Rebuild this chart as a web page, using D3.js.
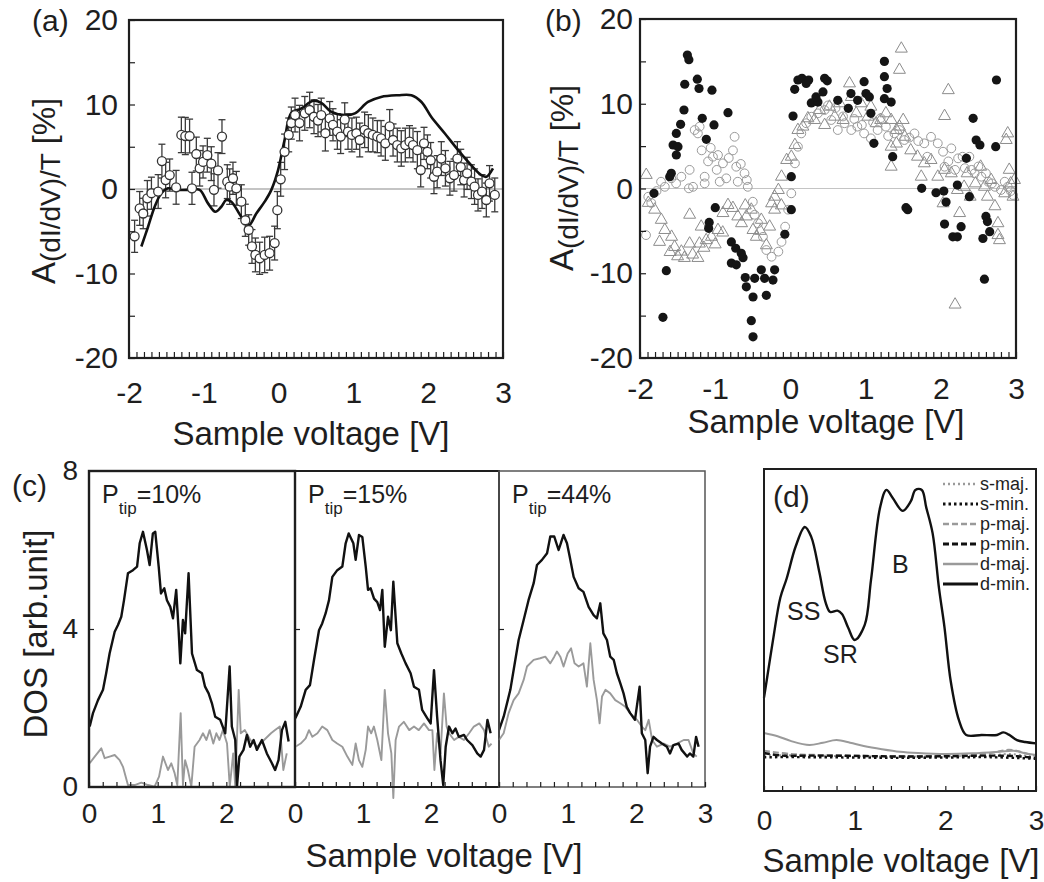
<!DOCTYPE html>
<html><head><meta charset="utf-8">
<script src="https://cdn.jsdelivr.net/npm/d3@7/dist/d3.min.js"></script>
<style>
body{margin:0;background:#fff;}
svg{display:block;}
</style></head><body>
<svg id="fig" width="1044" height="882"></svg>
<script>
// ---------------- DATA ----------------
// Panel (a): tick labels
const abXTicks = [-2, -1, 0, 1, 2, 3];
const abYTicks = [-20, -10, 0, 10, 20];
// Panel (a): measured asymmetry [V, A, err]
const aMeasured = [[-1.925,-5.6,1.9],[-1.857,-2.3,2.0],[-1.81,-2.9,1.8],[-1.755,-1.1,2.1],[-1.70,-0.5,1.9],
 [-1.61,-0.3,2.0],[-1.56,3.3,2.0],[-1.51,1.06,2.1],[-1.456,1.65,1.9],[-1.37,0.2,2.0],
 [-1.30,6.4,2.1],[-1.247,6.27,2.2],[-1.19,6.27,2.0],[-1.158,0.08,1.9],[-1.10,4.14,2.0],
 [-1.055,2.45,2.1],[-1.01,3.2,1.9],[-0.953,4.0,2.0],[-0.90,3.0,2.0],[-0.864,-0.1,1.9],
 [-0.81,2.2,2.1],[-0.757,6.2,2.0],[-0.686,0.87,2.0],[-0.654,0.28,2.1],[-0.61,1.27,1.9],
 [-0.565,0.08,2.0],[-0.498,-1.5,2.0],[-0.445,-3.7,1.9],[-0.40,-4.85,1.8],[-0.356,-6.8,2.0],
 [-0.31,-7.8,2.0],[-0.253,-8.2,1.9],[-0.186,-7.8,2.1],[-0.12,-7.6,2.0],[-0.053,-6.4,2.0],
 [-0.017,-2.5,2.2],[0.028,1.15,2.0],[0.08,4.4,2.1],[0.135,6.4,2.0],[0.17,7.8,1.9],
 [0.22,8.75,2.0],[0.28,7.8,2.1],[0.35,8.95,2.0],[0.415,9.35,2.1],[0.473,8.55,2.0],
 [0.527,8.1,1.9],[0.57,8.75,2.0],[0.625,6.6,2.1],[0.683,8.35,2.0],[0.727,7.6,1.9],
 [0.785,6.8,2.1],[0.83,6.2,2.0],[0.884,8.2,2.0],[0.928,6.8,2.1],[0.98,6.4,2.0],
 [1.04,6.6,1.9],[1.085,5.8,2.0],[1.15,7.0,2.1],[1.20,6.6,2.2],[1.26,6.4,2.0],
 [1.32,6.2,1.9],[1.37,6.0,2.1],[1.427,5.4,2.0],[1.485,7.4,2.0],[1.53,5.8,1.9],
 [1.587,5.2,2.0],[1.64,4.8,2.1],[1.694,5.2,2.0],[1.75,5.6,1.9],[1.797,5.2,2.0],
 [1.855,4.6,2.2],[1.90,2.25,2.0],[1.944,5.4,1.9],[1.99,4.4,2.0],[2.033,3.4,2.1],
 [2.077,1.45,2.0],[2.12,2.05,1.9],[2.175,3.6,2.0],[2.23,2.45,2.1],[2.29,1.27,2.0],
 [2.345,1.65,1.9],[2.39,3.6,2.0],[2.435,2.6,2.1],[2.48,1.06,2.0],[2.52,1.85,1.9],
 [2.577,0.87,2.0],[2.62,0.28,2.1],[2.666,-0.7,1.9],[2.72,-0.3,2.0],[2.777,-1.3,2.0],
 [2.82,0.67,2.1],[2.89,-0.7,2.0]];
// Panel (a): calculated curve [V, A]
const aCalc = [[-1.835,-6.8],[-1.746,-4.5],[-1.657,-2.1],[-1.568,-0.5],[-1.48,0.08],[-1.345,-0.1],
 [-1.167,-0.1],[-1.055,-0.1],[-0.944,-1.7],[-0.846,-2.7],[-0.766,-2.1],[-0.70,-1.3],[-0.632,-1.5],
 [-0.498,-3.3],[-0.40,-4.3],[-0.298,-2.9],[-0.186,-1.5],[-0.097,-0.1],[-0.008,2.2],[0.08,5.8],
 [0.17,9.0],[0.30,9.5],[0.46,10.45],[0.57,10.2],[0.70,9.15],[0.88,8.75],[1.02,8.95],[1.195,10.3],
 [1.37,10.9],[1.597,11.1],[1.775,11.1],[1.91,10.3],[2.04,8.55],[2.22,6.6],[2.40,4.6],[2.577,2.8],
 [2.71,1.65],[2.777,1.45],[2.866,2.45]];

// Panel (b): three measured sets [V, A]
const bFilled = [[-1.37,15.75],[-1.35,15.2],[-1.405,12.3],[-1.238,12.9],[-1.215,11.8],[-1.043,11.6],[-1.415,9.26],
 [-1.46,7.57],[-1.517,6.5],[-1.56,5.13],[-1.495,4.93],[-1.517,3.95],[-1.584,1.79],[-1.605,1.39],[-1.814,-0.57],
 [-1.65,-9.7],[-1.695,-15.2],[-1.172,8.28],[-1.118,5.8],[-1.016,7.5],[-0.83,8.95],[-0.999,-2.26],[-1.08,-4.0],
 [-1.087,-4.7],[-0.785,-6.3],[-0.727,-7.05],[-0.653,-7.65],[-0.63,-8.16],[-0.785,-8.8],[-0.719,-9.0],[-0.60,-10.5],
 [-0.586,-11.6],[-0.475,-10.6],[-0.497,-12.8],[-0.387,-9.6],[-0.32,-12.6],[-0.343,-10.6],[-0.232,-10.8],[-0.21,-9.6],
 [-0.52,-15.6],[-0.497,-17.5],[-0.074,-5.4],[0.012,1.39],[0.012,-2.5],[0.035,8.55],[0.10,12.8],[0.154,13.0],
 [0.21,12.4],[0.243,12.8],[0.057,11.7],[0.278,10.1],[0.366,10.2],[0.433,11.4],[0.455,13.0],[0.49,12.7],[0.34,10.8],
 [0.63,10.4],[0.77,9.46],[0.805,11.2],[0.894,10.4],[0.98,12.6],[1.005,11.2],[1.05,10.8],[1.07,8.87],[1.11,5.33],
 [1.25,15.0],[1.25,13.2],[1.286,11.8],[1.25,10.6],[1.34,10.2],[1.36,3.75],[1.537,-2.26],[1.56,-2.5],[1.746,0.02],
 [1.936,-0.5],[2.04,-0.3],[2.05,-4.2],[2.07,-1.6],[2.16,-5.7],[2.22,-5.7],[2.27,-4.5],[2.22,0.4],[2.34,3.56],
 [2.38,-0.97],[2.43,8.28],[2.47,5.72],[2.52,5.13],[2.56,-5.9],[2.60,-3.3],[2.65,-5.1],[2.58,-10.7],[2.73,4.93],
 [2.74,12.8],[2.62,-3.9]];
const bOpen = [[-1.92,-5.5],[-1.89,-0.97],[-1.85,-1.7],[-1.78,-0.3],[-1.72,0.8],[-1.67,0.2],[-1.584,1.2],[-1.52,0.6],
 [-1.45,1.39],[-1.35,0.02],[-1.34,2.2],[-1.273,6.9],[-1.207,7.3],[-1.23,6.5],[-1.295,0.2],[-1.18,4.5],[-1.14,1.39],
 [-1.14,0.6],[-1.095,3.2],[-1.06,4.8],[-1.03,3.75],[-0.98,2.2],[-0.963,3.95],[-0.94,0.8],[-0.897,2.97],[-0.853,1.2],
 [-0.82,3.6],[-0.742,6.1],[-0.764,4.5],[-0.72,2.57],[-0.70,0.8],[-0.66,2.9],[-0.61,1.79],[-0.58,1.0],[-0.567,0.2],
 [-0.50,-1.56],[-0.475,-3.1],[-0.43,-4.1],[-0.365,-5.7],[-0.32,-7.26],[-0.25,-8.05],[-0.16,-7.45],[-0.118,-6.3],
 [-0.07,-4.5],[-0.03,-2.5],[0.012,-0.57],[0.06,2.97],[0.10,4.93],[0.145,6.5],[0.21,7.7],[0.278,8.47],[0.366,8.87],
 [0.455,9.26],[0.5,9.8],[0.543,8.08],[0.6,9.5],[0.63,6.9],[0.7,8.5],[0.72,7.7],[0.81,6.9],[0.85,8.2],[0.89,7.3],
 [0.95,7.5],[0.98,6.5],[1.07,5.92],[1.1,7.8],[1.16,6.9],[1.2,8.3],[1.27,7.3],[1.3,6.2],[1.383,6.5],[1.45,6.9],
 [1.516,5.72],[1.58,6.0],[1.65,6.5],[1.7,5.6],[1.78,5.33],[1.82,3.75],[1.87,6.1],[1.96,5.33],[2.03,4.34],[2.05,2.57],
 [2.1,3.2],[2.14,4.74],[2.19,2.2],[2.23,3.56],[2.29,3.75],[2.32,2.4],[2.38,3.75],[2.41,2.2],[2.45,1.79],[2.5,2.6],
 [2.54,1.39],[2.6,1.8],[2.63,0.8],[2.68,0.6],[2.72,0.2],[2.80,-0.18],[2.85,0.8],[2.89,0.2],[2.93,-0.3],[2.96,-0.77]];
const bTriangles = [[-1.917,1.6],[-1.89,-1.7],[-1.805,-2.5],[-1.717,-3.7],[-1.67,-4.9],[-1.74,-6.3],[-1.6,-7.5],
 [-1.58,-5.7],[-1.54,-6.9],[-1.5,-8.0],[-1.45,-7.45],[-1.41,-8.2],[-1.34,-6.5],[-1.34,-3.1],[-1.3,-7.8],[-1.23,-8.2],
 [-1.21,-6.5],[-1.186,-4.5],[-1.15,-7.0],[-1.12,-6.1],[-1.05,-5.7],[-1.0,-6.6],[-0.963,-4.9],[-0.9,-5.2],[-0.897,-2.9],
 [-0.83,-1.95],[-0.764,-2.3],[-0.70,-3.3],[-0.65,-4.1],[-0.6,-2.0],[-0.586,-3.3],[-0.52,-2.5],[-0.497,-4.9],
 [-0.453,-5.7],[-0.4,-5.0],[-0.387,-3.7],[-0.32,-6.7],[-0.276,-4.5],[-0.25,-1.75],[-0.21,-0.97],[-0.21,-2.5],
 [-0.16,-0.18],[-0.12,-2.0],[-0.118,1.39],[-0.05,3.36],[0.012,3.75],[0.06,5.13],[0.10,6.9],[0.166,7.3],[0.233,8.28],
 [0.32,8.08],[0.388,9.26],[0.455,7.49],[0.52,9.65],[0.588,8.47],[0.655,10.05],[0.7,8.08],[0.786,12.4],[0.81,10.8],
 [0.875,8.87],[0.94,10.05],[1.03,8.47],[1.07,9.65],[1.14,7.7],[1.2,8.08],[1.27,8.87],[1.34,8.08],[1.41,6.9],
 [1.45,7.3],[1.475,16.5],[1.45,14.0],[1.5,8.08],[1.34,2.57],[1.34,4.93],[1.41,5.3],[1.52,6.1],[1.60,4.5],[1.69,3.75],
 [1.78,2.97],[1.87,3.36],[1.74,1.39],[1.96,1.39],[2.05,2.2],[2.03,-1.75],[2.1,11.6],[2.05,8.55],[2.14,1.79],
 [2.19,-13.7],[2.25,-2.9],[2.22,-0.18],[2.31,0.2],[2.35,1.79],[2.39,-0.97],[2.46,0.6],[2.53,2.57],[2.58,0.2],
 [2.62,-0.97],[2.67,1.0],[2.72,-2.1],[2.76,-4.1],[2.78,-6.1],[2.76,-5.5],[2.85,-0.57],[2.89,6.5],[2.87,5.72],
 [2.91,2.2],[2.93,0.6],[2.96,-0.97],[2.98,1.0]];

// Panel (c): tip polarisations and DOS curves [V, DOS]
const cTipLabels = ["10%", "15%", "44%"];
const cYTicks = [0, 4, 8];
const cXTicks = [[0, 1, 2], [0, 1, 2], [0, 1, 2, 3]];
const c1Black = [[0.01,1.53],[0.058,1.87],[0.131,2.2],[0.204,2.46],[0.25,2.88],[0.30,3.38],[0.374,3.93],[0.422,4.1],
 [0.47,4.31],[0.51,4.73],[0.567,5.41],[0.64,5.49],[0.70,5.58],[0.738,6.17],[0.786,6.46],[0.844,6.0],[0.883,5.62],
 [0.93,6.42],[0.965,6.46],[1.015,5.58],[1.048,4.9],[1.096,5.03],[1.135,4.73],[1.184,4.56],[1.223,4.27],[1.27,4.99],
 [1.305,3.97],[1.33,3.13],[1.368,4.23],[1.40,3.89],[1.45,5.41],[1.50,3.38],[1.572,2.96],[1.645,2.88],[1.69,2.54],
 [1.742,2.37],[1.79,2.12],[1.838,1.78],[1.911,1.7],[1.984,1.36],[2.048,3.05],[2.08,1.53],[2.13,1.19],[2.155,0.01],
 [2.19,0.77],[2.25,0.94],[2.30,1.32],[2.347,1.02],[2.397,1.19],[2.445,0.94],[2.518,1.19],[2.59,0.85],[2.664,0.6],
 [2.71,0.43],[2.76,0.68],[2.81,1.44],[2.858,1.65],[2.907,1.15]];
const c1Gray = [[0.01,0.6],[0.083,0.77],[0.179,0.98],[0.228,0.73],[0.30,0.77],[0.374,0.81],[0.446,0.68],[0.495,0.51],
 [0.567,0.05],[0.665,0.05],[0.762,0.11],[0.86,0.05],[0.955,0.01],[1.02,0.26],[1.077,0.77],[1.15,0.43],[1.198,0.6],
 [1.247,0.35],[1.286,0.05],[1.335,1.87],[1.368,0.05],[1.40,0.68],[1.44,0.43],[1.49,0.01],[1.538,1.02],[1.61,1.19],
 [1.66,1.36],[1.71,1.19],[1.757,1.44],[1.81,1.1],[1.855,1.36],[1.90,1.19],[1.95,1.44],[2.01,1.1],[2.05,0.01],
 [2.10,0.85],[2.13,0.01],[2.18,2.46],[2.21,1.36],[2.27,1.44],[2.35,1.19],[2.45,1.02],[2.55,1.19],[2.65,1.36],
 [2.71,1.44],[2.78,1.53],[2.83,0.43],[2.88,0.85]];
const c2Black = [[0.005,1.74],[0.083,2.03],[0.157,2.46],[0.22,2.58],[0.28,3.22],[0.353,3.97],[0.40,4.14],[0.451,4.4],
 [0.50,4.73],[0.549,5.32],[0.622,5.49],[0.696,5.58],[0.745,6.17],[0.79,6.42],[0.858,6.17],[0.892,5.75],[0.941,6.38],
 [0.99,6.33],[1.04,5.58],[1.074,4.99],[1.113,5.03],[1.162,4.77],[1.21,4.68],[1.25,4.48],[1.284,4.99],[1.32,3.55],
 [1.368,4.31],[1.41,3.97],[1.446,5.2],[1.505,3.64],[1.564,3.38],[1.627,3.13],[1.70,2.88],[1.75,2.54],[1.823,2.46],
 [1.87,1.95],[1.946,1.74],[1.995,1.61],[2.044,2.96],[2.09,1.78],[2.14,0.68],[2.18,0.05],[2.216,1.02],[2.265,1.53],
 [2.314,1.36],[2.36,1.48],[2.41,1.27],[2.485,1.32],[2.53,1.19],[2.608,1.06],[2.68,0.85],[2.73,0.77],[2.78,0.94],
 [2.83,1.7],[2.877,1.36]];
const c2Gray = [[0.005,1.02],[0.083,1.1],[0.157,1.23],[0.206,1.44],[0.255,1.27],[0.33,1.36],[0.40,1.53],[0.475,1.44],
 [0.549,1.19],[0.62,1.1],[0.696,1.02],[0.77,0.77],[0.843,0.56],[0.892,1.1],[0.94,0.68],[0.99,0.51],[1.04,0.94],
 [1.074,1.53],[1.12,1.36],[1.16,1.53],[1.21,1.19],[1.27,0.68],[1.32,2.46],[1.368,1.36],[1.417,0.85],[1.446,-0.28],
 [1.48,1.19],[1.53,1.53],[1.6,1.65],[1.68,1.44],[1.75,1.53],[1.82,1.44],[1.897,1.61],[1.97,1.44],[2.02,1.44],
 [2.05,0.43],[2.09,1.36],[2.14,0.85],[2.19,2.37],[2.23,1.53],[2.265,1.36],[2.34,1.19],[2.41,1.27],[2.485,1.19],
 [2.56,1.36],[2.63,1.53],[2.71,1.61],[2.78,1.44],[2.85,1.02],[2.89,1.1]];
const c3Black = [[0,1.44],[0.068,1.78],[0.165,2.46],[0.238,3.22],[0.286,3.72],[0.359,4.23],[0.43,4.73],[0.505,5.16],
 [0.553,5.62],[0.626,5.75],[0.70,5.92],[0.747,6.34],[0.805,6.34],[0.868,6.0],[0.90,6.17],[0.94,6.38],[0.99,6.17],
 [1.03,5.83],[1.087,5.32],[1.16,5.03],[1.23,4.94],[1.305,4.56],[1.378,4.35],[1.426,4.27],[1.475,4.65],[1.52,3.89],
 [1.572,3.72],[1.62,3.3],[1.67,3.22],[1.717,2.88],[1.766,2.63],[1.814,2.37],[1.86,2.03],[1.91,1.87],[1.98,1.7],
 [2.048,2.54],[2.08,1.36],[2.13,1.19],[2.165,0.35],[2.2,1.02],[2.25,1.27],[2.30,1.19],[2.373,1.1],[2.445,1.02],
 [2.49,0.85],[2.54,1.06],[2.615,1.1],[2.66,0.94],[2.74,0.77],[2.78,0.85],[2.83,0.77],[2.87,1.27],[2.907,1.02]];
const c3Gray = [[0,1.19],[0.068,1.36],[0.14,1.87],[0.213,2.2],[0.286,2.37],[0.359,2.71],[0.408,3.05],[0.505,3.22],
 [0.60,3.26],[0.674,3.3],[0.747,3.13],[0.805,3.3],[0.844,3.43],[0.893,3.3],[0.94,3.05],[1.0,3.38],[1.05,3.51],
 [1.1,3.13],[1.16,3.05],[1.23,3.13],[1.28,2.54],[1.33,3.64],[1.378,2.71],[1.426,2.2],[1.465,1.61],[1.5,2.29],
 [1.55,2.46],[1.62,2.37],[1.693,2.2],[1.766,2.12],[1.84,2.03],[1.91,1.87],[2.01,1.7],[2.08,1.53],[2.13,1.44],
 [2.18,1.7],[2.23,1.19],[2.30,1.02],[2.4,1.1],[2.49,1.02],[2.59,1.1],[2.69,1.19],[2.76,1.19],[2.83,0.85],[2.88,0.77]];

// Panel (d): calculated orbital-resolved DOS [V, DOS arb.]
const dXTicks = [0, 1, 2, 3];
const dLegend = ["s-maj.", "s-min.", "p-maj.", "p-min.", "d-maj.", "d-min."];
const dSMaj = [[0,1.12],[0.5,1.1],[1,1.08],[1.5,1.07],[2,1.08],[2.5,1.1],[2.7,1.15],[3,1.05]];
const dSMin = [[0,1.05],[0.5,1.05],[1,1.04],[1.5,1.03],[2,1.04],[2.5,1.05],[3,1.0]];
const dPMaj = [[0,1.25],[0.3,1.15],[0.6,1.12],[1,1.1],[1.5,1.08],[2,1.1],[2.5,1.18],[2.7,1.28],[2.85,1.2],[3,1.08]];
const dPMin = [[0,1.18],[0.2,1.1],[0.5,1.1],[1,1.09],[1.5,1.07],[2,1.08],[2.5,1.1],[2.8,1.08],[3,1.02]];
const dDMaj = [[0,1.8],[0.15,1.7],[0.3,1.55],[0.5,1.43],[0.65,1.5],[0.8,1.58],[0.95,1.5],[1.1,1.4],[1.3,1.3],
 [1.5,1.22],[1.7,1.18],[2.0,1.15],[2.3,1.17],[2.6,1.22],[2.75,1.25],[2.9,1.16],[3.0,1.12]];
const dDMin = [[0,2.9],[0.05,3.8],[0.1,4.7],[0.18,6.0],[0.25,6.6],[0.35,7.6],[0.45,8.2],[0.52,7.9],[0.61,6.8],
 [0.68,5.85],[0.73,5.56],[0.81,5.6],[0.86,5.5],[0.93,5.06],[1.0,4.69],[1.11,5.15],[1.18,6.55],[1.28,8.8],[1.35,9.35],
 [1.42,9.1],[1.53,8.7],[1.62,9.0],[1.67,9.35],[1.74,9.35],[1.79,8.8],[1.86,8.0],[1.93,6.3],[1.99,5.1],[2.06,3.4],
 [2.15,2.2],[2.23,1.74],[2.4,1.74],[2.57,1.74],[2.64,1.82],[2.7,1.75],[2.79,1.58],[2.88,1.52],[3.0,1.48]];

// ---------------- DRAWING ----------------
const FONT = '"Liberation Sans", Arial, Helvetica, sans-serif';
const INK = "#1e1e1e";
const GRAY = "#9a9a9a";
const svg = d3.select("#fig").attr("font-family", FONT);
svg.append("rect").attr("width", 1044).attr("height", 882).attr("fill", "#fff");

function frame(g, xs, ys, sw, col) {
  const [x0, x1] = xs.range(), [y0, y1] = ys.range();
  g.append("rect").attr("x", x0).attr("y", Math.min(y0, y1))
    .attr("width", x1 - x0).attr("height", Math.abs(y0 - y1))
    .attr("fill", "none").attr("stroke", col || INK).attr("stroke-width", sw || 2);
}
function tickMarks(g, axisFn, scale, vals, len, tx, ty) {
  const a = g.append("g").attr("transform", `translate(${tx},${ty})`)
    .call(axisFn(scale).tickValues(vals).tickSize(-len).tickFormat(""));
  a.select(".domain").remove();
  a.selectAll("line").attr("stroke", INK).attr("stroke-width", 1.2);
}
function tickLabels(g, axisFn, scale, vals, pad, size, tx, ty) {
  const a = g.append("g").attr("transform", `translate(${tx},${ty})`)
    .call(axisFn(scale).tickValues(vals).tickSize(0).tickPadding(pad).tickFormat(d => String(d)));
  a.select(".domain").remove();
  a.selectAll("text").attr("font-size", size).attr("font-family", FONT).attr("fill", INK);
}
function stepRange(a, b, s) { const n = Math.round((b - a) / s); return d3.range(n + 1).map(i => +(a + i * s).toFixed(3)); }
function text(g, x, y, str, size, anchor) {
  return g.append("text").attr("x", x).attr("y", y).attr("font-size", size)
    .attr("text-anchor", anchor || "start").attr("fill", INK).text(str);
}
function yTitleA(g, x, cy) {
  const t = g.append("text").attr("transform", `translate(${x},${cy}) rotate(-90)`)
    .attr("text-anchor", "middle").attr("fill", INK);
  t.append("tspan").attr("font-size", 33).text("A");
  t.append("tspan").attr("font-size", 28).attr("dy", 5).text("(dI/dV)/T");
  t.append("tspan").attr("font-size", 32).attr("dy", -5).text("\u00a0[%]");
}

// ---- Panel (a) ----
{
  const g = svg.append("g");
  const x = d3.scaleLinear().domain([-2, 3]).range([129, 503]);
  const y = d3.scaleLinear().domain([-20, 20]).range([358, 20]);
  g.append("line").attr("x1", x(-2)).attr("x2", x(3)).attr("y1", y(0)).attr("y2", y(0))
    .attr("stroke", "#8a8a8a").attr("stroke-width", 1.2);
  const eb = g.append("g").attr("stroke", "#3a3a3a").attr("stroke-width", 1.3);
  aMeasured.forEach(d => {
    eb.append("line").attr("x1", x(d[0])).attr("x2", x(d[0])).attr("y1", y(d[1] - d[2])).attr("y2", y(d[1] + d[2]));
    [d[1] - d[2], d[1] + d[2]].forEach(v => eb.append("line")
      .attr("x1", x(d[0]) - 3.5).attr("x2", x(d[0]) + 3.5).attr("y1", y(v)).attr("y2", y(v)));
  });
  g.append("path").datum(aCalc).attr("fill", "none").attr("stroke", "#111").attr("stroke-width", 2.6)
    .attr("stroke-linejoin", "round")
    .attr("d", d3.line().x(d => x(d[0])).y(d => y(d[1])).curve(d3.curveCatmullRom));
  g.append("g").selectAll("circle").data(aMeasured).join("circle")
    .attr("cx", d => x(d[0])).attr("cy", d => y(d[1])).attr("r", 4.5)
    .attr("fill", "#fff").attr("stroke", "#333").attr("stroke-width", 1.3);
  frame(g, x, y, 2.2);
  tickMarks(g, d3.axisBottom, x, stepRange(-2, 3, 0.1), 6, 0, 358);
  tickMarks(g, d3.axisLeft, y, stepRange(-20, 20, 5), 6, 129, 0);
  tickLabels(g, d3.axisBottom, x, abXTicks, 24, 30, 0, 358);
  tickLabels(g, d3.axisLeft, y, abYTicks, 11, 30, 129, 0);
  text(g, 311, 445, "Sample voltage [V]", 33, "middle");
  yTitleA(g, 55, 191);
  text(g, 32, 31, "(a)", 30);
}

// ---- Panel (b) ----
{
  const g = svg.append("g");
  const x = d3.scaleLinear().domain([-2, 3]).range([640, 1016]);
  const y = d3.scaleLinear().domain([-20, 20]).range([358, 19]);
  g.append("line").attr("x1", x(-2)).attr("x2", x(3)).attr("y1", y(0)).attr("y2", y(0))
    .attr("stroke", "#c4c4c4").attr("stroke-width", 1.2);
  g.append("g").selectAll("path").data(bTriangles).join("path")
    .attr("transform", d => `translate(${x(d[0])},${y(d[1])})`)
    .attr("d", d3.symbol(d3.symbolTriangle, 62))
    .attr("fill", "none").attr("stroke", "#8c8c8c").attr("stroke-width", 1);
  g.append("g").selectAll("circle").data(bOpen).join("circle")
    .attr("cx", d => x(d[0])).attr("cy", d => y(d[1])).attr("r", 4.4)
    .attr("fill", "none").attr("stroke", "#9a9a9a").attr("stroke-width", 1);
  g.append("g").selectAll("circle").data(bFilled).join("circle")
    .attr("cx", d => x(d[0])).attr("cy", d => y(d[1])).attr("r", 4.6)
    .attr("fill", "#151515");
  frame(g, x, y, 2.2);
  tickMarks(g, d3.axisBottom, x, stepRange(-2, 3, 0.1), 6, 0, 358);
  tickMarks(g, d3.axisLeft, y, stepRange(-20, 20, 5), 6, 640, 0);
  tickLabels(g, d3.axisBottom, x, abXTicks, 20, 30, 0, 358);
  tickLabels(g, d3.axisLeft, y, abYTicks, 7, 30, 640, 0);
  text(g, 826, 433, "Sample voltage [V]", 33, "middle");
  yTitleA(g, 573, 178);
  text(g, 545, 31, "(b)", 30);
}

// ---- Panel (c) ----
{
  const g = svg.append("g");
  const subs = [
    { x0: 89, x1: 295, black: c1Black, gray: c1Gray, col: INK, sw: 2.4 },
    { x0: 295, x1: 499, black: c2Black, gray: c2Gray, col: INK, sw: 2.0 },
    { x0: 499, x1: 705, black: c3Black, gray: c3Gray, col: "#555", sw: 1.5 }
  ];
  const y = d3.scaleLinear().domain([0, 8]).range([787, 471]);
  subs.forEach((s, i) => {
    const x = d3.scaleLinear().domain([0, 3]).range([s.x0, s.x1]);
    const line = d3.line().x(d => x(d[0])).y(d => y(d[1]));
    g.append("path").datum(s.gray).attr("fill", "none").attr("stroke", GRAY)
      .attr("stroke-width", 1.9).attr("stroke-linejoin", "round").attr("d", line);
    g.append("path").datum(s.black).attr("fill", "none").attr("stroke", "#111")
      .attr("stroke-width", 2.4).attr("stroke-linejoin", "round").attr("d", line);
    frame(g, x, y, s.sw, s.col);
    tickMarks(g, d3.axisBottom, x, stepRange(0, 3, 0.2), 5, 0, 787);
    tickMarks(g, d3.axisLeft, y, [4], 5, s.x0, 0);
    tickLabels(g, d3.axisBottom, x, cXTicks[i], 16, 28, 0, 787);
    const t = g.append("text").attr("x", s.x0 + 13).attr("y", 503).attr("fill", INK);
    t.append("tspan").attr("font-size", 25).text("P");
    t.append("tspan").attr("font-size", 17).attr("dy", 11).text("tip");
    t.append("tspan").attr("font-size", 25).attr("dy", -11).text("=" + cTipLabels[i]);
  });
  tickLabels(g, d3.axisLeft, y, cYTicks, 11, 28, 89, 0);
  text(g, 444, 867, "Sample voltage [V]", 33, "middle");
  g.append("text").attr("transform", "translate(47,634) rotate(-90)").attr("text-anchor", "middle")
    .attr("font-size", 33).attr("fill", INK).text("DOS [arb.unit]");
  text(g, 12, 496, "(c)", 30);
}

// ---- Panel (d) ----
{
  const g = svg.append("g");
  const x = d3.scaleLinear().domain([0, 3]).range([764, 1036]);
  const y = d3.scaleLinear().domain([0, 10]).range([791, 469]);
  const styles = [
    { data: dSMaj, stroke: GRAY, sw: 2, dash: "2,3" },
    { data: dSMin, stroke: "#111", sw: 2.4, dash: "2.5,3" },
    { data: dPMaj, stroke: GRAY, sw: 2, dash: "6,3" },
    { data: dPMin, stroke: "#111", sw: 2.4, dash: "6,3" },
    { data: dDMaj, stroke: GRAY, sw: 2, dash: null },
    { data: dDMin, stroke: "#111", sw: 2.4, dash: null }
  ];
  const line = d3.line().x(d => x(d[0])).y(d => y(d[1])).curve(d3.curveCatmullRom);
  styles.forEach(s => {
    g.append("path").datum(s.data).attr("fill", "none").attr("stroke", s.stroke)
      .attr("stroke-width", s.sw).attr("stroke-dasharray", s.dash).attr("d", line);
  });
  frame(g, x, y, 2);
  tickMarks(g, d3.axisBottom, x, stepRange(0, 3, 0.2), 5, 0, 791);
  tickLabels(g, d3.axisBottom, x, dXTicks, 19, 28, 0, 791);
  const lg = g.append("g");
  dLegend.forEach((name, i) => {
    const s = styles[i], yy = 484 + i * 20;
    lg.append("line").attr("x1", 943).attr("x2", 978).attr("y1", yy).attr("y2", yy)
      .attr("stroke", s.stroke).attr("stroke-width", s.sw + 0.6).attr("stroke-dasharray", s.dash);
    lg.append("text").attr("x", 980).attr("y", yy + 6).attr("font-size", 18).attr("fill", INK).text(name);
  });
  text(g, 787, 620, "SS", 25);
  text(g, 823, 663, "SR", 25);
  text(g, 892, 573, "B", 25);
  text(g, 773, 507, "(d)", 30);
  text(g, 901, 872, "Sample voltage [V]", 33, "middle");
}
</script>
</body></html>
